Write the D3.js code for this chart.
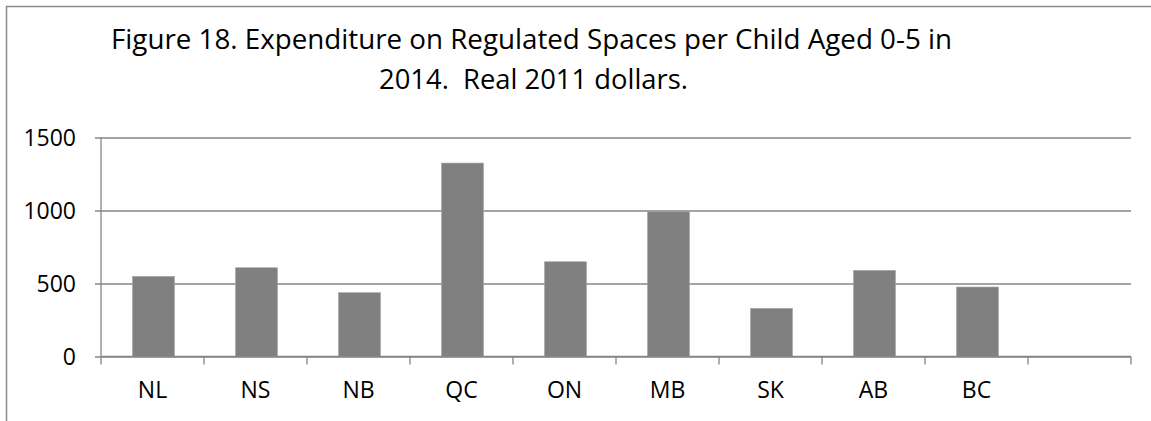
<!DOCTYPE html>
<html>
<head>
<meta charset="utf-8">
<script src="https://cdn.jsdelivr.net/npm/d3@7"></script>
<style>
  html, body { margin: 0; padding: 0; background: #fff; }
  svg { display: block; font-family: "Open Sans", "Liberation Sans", sans-serif; }
</style>
</head>
<body>
<svg id="chart" width="1151" height="421"></svg>
<script>
const categories = ["NL", "NS", "NB", "QC", "ON", "MB", "SK", "AB", "BC", ""];
const values = [549, 608, 437, 1325, 649, 993, 330, 590, 476, null];
const yTicks = [0, 500, 1000, 1500];
const titleLines = ["Figure 18. Expenditure on Regulated Spaces per Child Aged 0-5 in", "2014.  Real 2011 dollars."];

const svg = d3.select("#chart");
const gridColor = "#868686";

// outer chart border
svg.append("rect")
  .attr("x", 6.5).attr("y", 6.5)
  .attr("width", 1200).attr("height", 500)
  .attr("fill", "none").attr("stroke", "#8a8a8a").attr("stroke-width", 1.5);

const x = d3.scaleBand().domain(categories).range([101, 1131]).paddingInner(0.592).paddingOuter(0.296);
const step = x.step();
const y = d3.scaleLinear().domain([0, 1500]).range([356.5, 137.5]);

// gridlines + left ticks
const yAxis = d3.axisLeft(y).tickValues(yTicks).tickSize(-(1131 - 95)).tickPadding(0).tickFormat(d3.format("d"));
const gy = svg.append("g").attr("transform", "translate(95,0)").call(yAxis);
gy.select(".domain").remove();
gy.selectAll(".tick line").attr("stroke", gridColor).attr("stroke-width", 1.3);
gy.selectAll(".tick text")
  .attr("x", -19).attr("dy", "0.35em")
  .attr("fill", "#000").attr("font-size", 23).attr("font-family", "Open Sans");

// vertical axis line
svg.append("line")
  .attr("x1", 101).attr("x2", 101).attr("y1", y(1500)).attr("y2", y(0))
  .attr("stroke", gridColor).attr("stroke-width", 1.3);

// bars
svg.append("g").selectAll("rect")
  .data(categories.map((c, i) => ({c, v: values[i]})).filter(d => d.v != null))
  .join("rect")
  .attr("x", d => x(d.c) + 1)
  .attr("width", x.bandwidth())
  .attr("y", d => y(d.v))
  .attr("height", d => y(0) - y(d.v))
  .attr("fill", "#808080")
  .attr("stroke", "#a6a6a6").attr("stroke-width", 0.6);

// x axis
const xAxis = d3.axisBottom(x).tickSize(0).tickPadding(0);
const gx = svg.append("g").attr("transform", `translate(0,${y(0)})`).call(xAxis);
gx.select(".domain").attr("stroke", gridColor).attr("stroke-width", 1.3)
  .attr("d", `M101,0H1131`);
gx.selectAll(".tick text")
  .attr("y", 41.5).attr("dy", 0)
  .attr("fill", "#000").attr("font-size", 23).attr("font-family", "Open Sans");

// category boundary ticks
const bounds = categories.map(c => x(c) - x.step() * x.paddingOuter() * 0 ).map((v, i) => 101 + i * step).concat([1131]);
svg.append("g").selectAll("line").data(bounds).join("line")
  .attr("x1", d => d).attr("x2", d => d)
  .attr("y1", y(0)).attr("y2", y(0) + 8)
  .attr("stroke", gridColor).attr("stroke-width", 1.3);

// title
const title = svg.append("g").attr("fill", "#000").attr("font-size", 27);
title.append("text").attr("x", 111).attr("y", 49)
  .attr("textLength", 841).attr("lengthAdjust", "spacingAndGlyphs")
  .style("white-space", "pre").text(titleLines[0]);
title.append("text").attr("x", 379).attr("y", 89)
  .attr("textLength", 309).attr("lengthAdjust", "spacingAndGlyphs")
  .style("white-space", "pre").text(titleLines[1]);
</script>
</body>
</html>
